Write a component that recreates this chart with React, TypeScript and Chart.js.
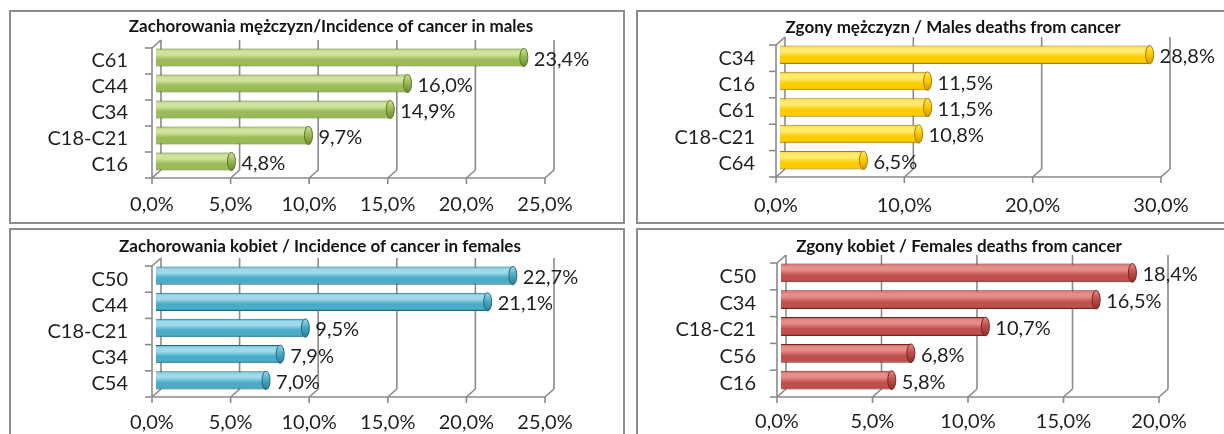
import React, { useEffect, useRef } from "react";
import { Chart, registerables } from "chart.js";

Chart.register(...registerables);

// ---------- data ----------
const maleIncidenceCategories = ["C61", "C44", "C34", "C18-C21", "C16"];
const maleIncidenceValues = [23.4, 16.0, 14.9, 9.7, 4.8];

const maleDeathCategories = ["C34", "C16", "C61", "C18-C21", "C64"];
const maleDeathValues = [28.8, 11.5, 11.5, 10.8, 6.5];

const femaleIncidenceCategories = ["C50", "C44", "C18-C21", "C34", "C54"];
const femaleIncidenceValues = [22.7, 21.1, 9.5, 7.9, 7.0];

const femaleDeathCategories = ["C50", "C34", "C18-C21", "C56", "C16"];
const femaleDeathValues = [18.4, 16.5, 10.7, 6.8, 5.8];

const panelTitles = [
  "Zachorowania mężczyzn/Incidence of cancer in males",
  "Zgony mężczyzn / Males deaths from cancer",
  "Zachorowania kobiet / Incidence of cancer in females",
  "Zgony kobiet / Females deaths from cancer",
];
const axisMaxima = [25, 30, 25, 20];
const axisSteps = [5, 10, 5, 5];

// ---------- styling ----------
const FONT = "Lato, 'Open Sans', 'DejaVu Sans', sans-serif";
const TEXT = "#1f1f1f";
const GRID = "#8a8a8a";
const DX = 9; // 3D depth offset for back wall
const DY = -8;
const SX = 4; // bars sit mid-depth
const SY = -3.5;
const BAR_PCT = 0.7;
const CW = 612;
const CH = 210;

type Pal = { base: string; light: string; dark: string; edge: string };
const palettes: Pal[] = [
  { base: "#9bbb59", light: "#cfe39c", dark: "#6a8a2c", edge: "#5c7826" },
  { base: "#ffcc00", light: "#ffeb70", dark: "#d09a00", edge: "#a77a00" },
  { base: "#4bacc6", light: "#9fd9ec", dark: "#2a7d96", edge: "#226a80" },
  { base: "#c0504d", light: "#e68d8a", dark: "#8e2e2b", edge: "#772522" },
];

type Layout = {
  left: number; top: number;
  aLeft: number; aRight: number; aTop: number; aBottom: number;
  xPad: number; yPad: number; tx: number; ty: number;
};
const layouts: Layout[] = [
  { left: 9, top: 10, aLeft: 141, aRight: 534, aTop: 35, aBottom: 166, xPad: 15, yPad: 24, tx: 320, ty: 15 },
  { left: 636, top: 10, aLeft: 138, aRight: 523, aTop: 31, aBottom: 165, xPad: 17, yPad: 21, tx: 315, ty: 16 },
  { left: 9, top: 228, aLeft: 141, aRight: 534, aTop: 32, aBottom: 167, xPad: 14, yPad: 24, tx: 309, ty: 17 },
  { left: 636, top: 228, aLeft: 139, aRight: 521, aTop: 32, aBottom: 167, xPad: 13, yPad: 21, tx: 321, ty: 17 },
];

const fmt = (v: number) => v.toFixed(1).replace(".", ",") + "%";

function makeGradient(ctx: CanvasRenderingContext2D, yc: number, h: number, p: Pal) {
  const g = ctx.createLinearGradient(0, yc - h / 2, 0, yc + h / 2);
  g.addColorStop(0, p.base);
  g.addColorStop(0.15, p.light);
  g.addColorStop(0.35, p.light);
  g.addColorStop(0.62, p.base);
  g.addColorStop(0.88, p.base);
  g.addColorStop(1, p.dark);
  return g;
}

function Panel({ idx, labels, values }: { idx: number; labels: string[]; values: number[] }) {
  const ref = useRef<HTMLCanvasElement>(null);
  const L = layouts[idx];
  useEffect(() => {
    const pal = palettes[idx];
    const title = panelTitles[idx];
    const max = axisMaxima[idx];
    const step = axisSteps[idx];

    const line = (ctx: CanvasRenderingContext2D, x1: number, y1: number, x2: number, y2: number) => {
      ctx.beginPath();
      ctx.moveTo(x1, y1);
      ctx.lineTo(x2, y2);
      ctx.stroke();
    };

    const plugin = {
      id: "panel3d" + idx,
      beforeDatasetsDraw(chart: any) {
        const { ctx, chartArea: a, scales } = chart;
        const xs = scales.x;
        const ys = scales.y;
        ctx.save();
        ctx.strokeStyle = GRID;
        ctx.lineWidth = 1.6;
        xs.ticks.forEach((t: any) => {
          const px = xs.getPixelForValue(t.value);
          line(ctx, px, a.bottom, px + DX, a.bottom + DY);
          line(ctx, px + DX, a.bottom + DY, px + DX, a.top + DY);
          line(ctx, px, a.bottom, px, a.bottom + 6);
        });
        line(ctx, a.left, a.bottom, a.right, a.bottom);
        line(ctx, a.left, a.top, a.left, a.bottom);
        line(ctx, a.left, a.top, a.left + DX, a.top + DY);
        for (let i = 0; i <= labels.length; i++) {
          const yb = ys.getPixelForValue(i - 0.5);
          line(ctx, a.left - 7, yb, a.left, yb);
        }
        ctx.restore();
        ctx.save();
        ctx.translate(SX, SY);
      },
      afterDatasetsDraw(chart: any) {
        const { ctx } = chart;
        const meta = chart.getDatasetMeta(0);
        meta.data.forEach((el: any, i: number) => {
          const p = el.getProps(["x", "y", "height"], true);
          const h = p.height;
          if (!Number.isFinite(p.x) || !Number.isFinite(p.y) || !Number.isFinite(h)) return;
          ctx.save();
          ctx.beginPath();
          ctx.ellipse(p.x, p.y, 4, Math.max(h / 2, 0.5), 0, 0, Math.PI * 2);
          const g = ctx.createLinearGradient(0, p.y - h / 2, 0, p.y + h / 2 + 0.01);
          g.addColorStop(0, pal.light);
          g.addColorStop(0.45, pal.base);
          g.addColorStop(1, pal.dark);
          ctx.fillStyle = g;
          ctx.fill();
          ctx.lineWidth = 1;
          ctx.strokeStyle = pal.edge;
          ctx.stroke();
          ctx.restore();
          ctx.save();
          ctx.font = `20px ${FONT}`;
          ctx.fillStyle = TEXT;
          ctx.textAlign = "left";
          ctx.textBaseline = "middle";
          ctx.fillText(fmt(values[i]), p.x + 10, p.y + 2);
          ctx.restore();
        });
        ctx.restore();
      },
      afterDraw(chart: any) {
        const { ctx } = chart;
        ctx.save();
        ctx.font = `bold 17px ${FONT}`;
        ctx.fillStyle = "#141414";
        ctx.textAlign = "center";
        ctx.textBaseline = "middle";
        ctx.fillText(title, L.tx, L.ty);
        ctx.restore();
      },
    };

    const chart = new Chart(ref.current as HTMLCanvasElement, {
      type: "bar",
      data: {
        labels,
        datasets: [
          {
            data: values,
            backgroundColor: (c: any) => {
              const ys = c.chart.scales && c.chart.scales.y;
              if (!ys || c.dataIndex === undefined) return pal.base;
              const yc = ys.getPixelForValue(c.dataIndex);
              const slot = Math.abs(ys.getPixelForValue(1) - ys.getPixelForValue(0));
              const h = slot * BAR_PCT;
              if (!Number.isFinite(yc) || !Number.isFinite(h) || h <= 0) return pal.base;
              return makeGradient(c.chart.ctx, yc, h, pal);
            },
            borderColor: pal.edge,
            borderWidth: 1,
            borderSkipped: "start",
            barPercentage: BAR_PCT,
            categoryPercentage: 1,
            clip: false,
          } as any,
        ],
      },
      options: {
        indexAxis: "y",
        responsive: false,
        animation: false,
        events: [],
        layout: { padding: { top: L.aTop, right: CW - L.aRight, left: 0, bottom: 0 } },
        plugins: {
          legend: { display: false },
          tooltip: { enabled: false },
          title: { display: false },
        },
        scales: {
          x: {
            min: 0,
            max,
            ticks: {
              stepSize: step,
              autoSkip: false,
              maxRotation: 0,
              padding: L.xPad,
              color: TEXT,
              font: { family: FONT, size: 20 },
              callback: (v: any) => fmt(Number(v)),
            },
            grid: { display: false, drawTicks: false },
            border: { display: false },
            afterFit: (s: any) => {
              s.height = CH - L.aBottom;
            },
          },
          y: {
            ticks: {
              autoSkip: false,
              padding: L.yPad,
              color: TEXT,
              font: { family: FONT, size: 20 },
            },
            grid: { display: false, drawTicks: false },
            border: { display: false },
            afterFit: (s: any) => {
              s.width = L.aLeft;
            },
          },
        },
      } as any,
      plugins: [plugin as any],
    });
    chart.update();
    return () => chart.destroy();
  }, []);

  return (
    <div
      style={{
        position: "absolute",
        left: L.left,
        top: L.top,
        width: CW + 4,
        height: CH + 4,
        border: "2px solid #8c8c8c",
        boxSizing: "border-box",
        background: "#fff",
      }}
    >
      <canvas ref={ref} width={CW} height={CH} style={{ display: "block", width: CW, height: CH }} />
    </div>
  );
}

export default function App() {
  return (
    <div
      style={{
        position: "absolute",
        left: 0,
        top: 0,
        width: 1224,
        height: 434,
        overflow: "hidden",
        background: "#fff",
      }}
    >
      <Panel idx={0} labels={maleIncidenceCategories} values={maleIncidenceValues} />
      <Panel idx={1} labels={maleDeathCategories} values={maleDeathValues} />
      <Panel idx={2} labels={femaleIncidenceCategories} values={femaleIncidenceValues} />
      <Panel idx={3} labels={femaleDeathCategories} values={femaleDeathValues} />
    </div>
  );
}
